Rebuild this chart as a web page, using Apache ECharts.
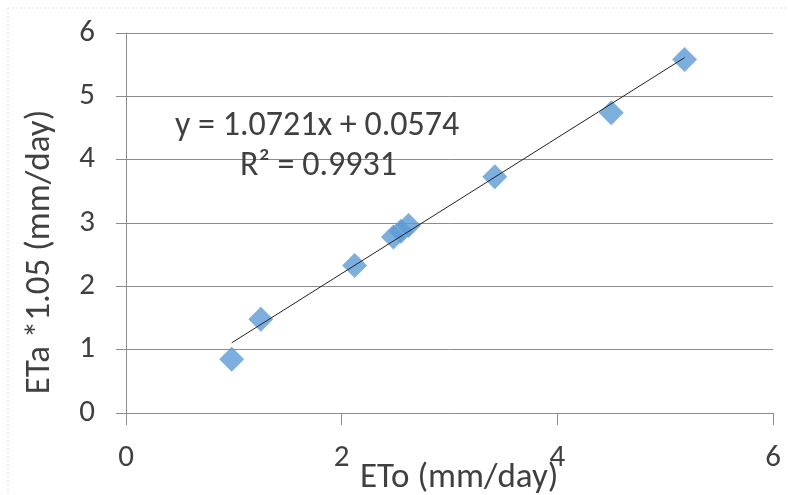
<!DOCTYPE html>
<html>
<head>
<meta charset="utf-8">
<script src="https://cdn.jsdelivr.net/npm/echarts@6/dist/echarts.min.js"></script>
<style>
  html, body { margin: 0; padding: 0; background: #fff; }
  #chart { width: 788px; height: 495px; }
</style>
</head>
<body>
<div id="chart"></div>
<script>
// Measured daily evapotranspiration pairs
const etoValues = [0.98, 1.25, 2.12, 2.48, 2.55, 2.62, 3.42, 4.50, 5.18];
const etaValues = [0.85, 1.48, 2.33, 2.78, 2.87, 2.96, 3.73, 4.74, 5.58];

// Linear trendline coefficients and fit quality
const slope = 1.0721;
const intercept = 0.0574;
const rSquared = 0.9931;

const xTicks = [0, 2, 4, 6];
const yTicks = [0, 1, 2, 3, 4, 5, 6];

const xTitle = 'ETo (mm/day)';
const yTitle = 'ETa *1.05 (mm/day)';

const FONT = 'Carlito, "Open Sans", "Noto Sans", sans-serif';
const TEXT_COLOR = '#404040';

const points = etoValues.map((x, i) => [x, etaValues[i]]);
const xMin = Math.min(...etoValues);
const xMax = Math.max(...etoValues);
const trend = [[xMin, slope * xMin + intercept], [xMax, slope * xMax + intercept]];

const chart = echarts.init(document.getElementById('chart'), null, { renderer: 'canvas' });

chart.setOption({
  animation: false,
  backgroundColor: '#ffffff',
  grid: { left: 126, right: 15, top: 33, bottom: 82 },
  xAxis: {
    type: 'value',
    min: xTicks[0],
    max: xTicks[xTicks.length - 1],
    interval: xTicks[1] - xTicks[0],
    axisLine: { show: true, onZero: false, lineStyle: { color: '#8c8c8c', width: 1 } },
    axisTick: { show: true, inside: false, length: 12, lineStyle: { color: '#8c8c8c' } },
    splitLine: { show: false },
    axisLabel: { margin: 30, color: TEXT_COLOR, fontSize: 31, fontFamily: FONT }
  },
  yAxis: {
    type: 'value',
    min: yTicks[0],
    max: yTicks[yTicks.length - 1],
    interval: yTicks[1] - yTicks[0],
    axisLine: { show: true, onZero: false, lineStyle: { color: '#8c8c8c', width: 1 } },
    axisTick: { show: true, inside: false, length: 10, lineStyle: { color: '#8c8c8c' } },
    splitLine: { show: true, lineStyle: { color: '#8c8c8c', width: 1 } },
    axisLabel: { margin: 31, color: TEXT_COLOR, fontSize: 31, fontFamily: FONT }
  },
  graphic: [
    { type: 'line', shape: { x1: 8, y1: 8, x2: 788, y2: 8 }, style: { stroke: '#e6e6e6', lineWidth: 1, lineDash: [2, 2] }, silent: true },
    { type: 'line', shape: { x1: 8, y1: 8, x2: 8, y2: 495 }, style: { stroke: '#e6e6e6', lineWidth: 1, lineDash: [2, 2] }, silent: true },
    {
      type: 'text', x: 175, y: 126, z: 10,
      style: { text: 'y = ' + slope + 'x + ' + intercept, fontSize: 34, fontFamily: FONT, fill: TEXT_COLOR, align: 'left', verticalAlign: 'middle' }
    },
    {
      type: 'text', x: 240, y: 166, z: 10,
      style: { text: 'R² = ' + rSquared, fontSize: 34, fontFamily: FONT, fill: TEXT_COLOR, align: 'left', verticalAlign: 'middle' }
    },
    {
      type: 'text', x: 360, y: 478, z: 10,
      style: { text: xTitle, fontSize: 35, fontFamily: FONT, fill: TEXT_COLOR, align: 'left', verticalAlign: 'middle' }
    },
    {
      type: 'text', x: 40, y: 252, rotation: Math.PI / 2, z: 10,
      style: { text: yTitle, fontSize: 35, fontFamily: FONT, fill: TEXT_COLOR, align: 'center', verticalAlign: 'middle' }
    }
  ],
  series: [
    {
      name: 'ETa',
      type: 'scatter',
      data: points,
      symbol: 'diamond',
      symbolSize: [25, 25],
      itemStyle: { color: '#5b9bd5' },
      z: 3
    },
    {
      name: 'Trendline',
      type: 'line',
      data: trend,
      symbol: 'none',
      lineStyle: { color: '#222222', width: 1 },
      z: 4
    }
  ]
});
</script>
</body>
</html>
